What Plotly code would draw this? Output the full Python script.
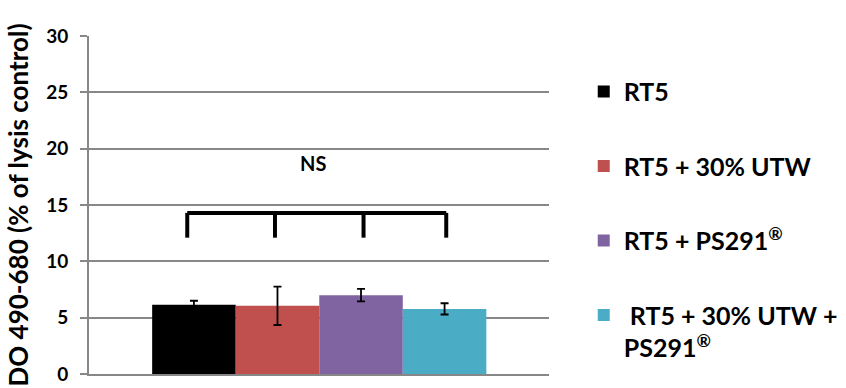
import plotly.graph_objects as go

series_names = ["RT5", "RT5 + 30% UTW", "RT5 + PS291<sup>®</sup>", " RT5 + 30% UTW +<br>PS291<sup>®</sup>"]
values = [6.15, 6.05, 7.0, 5.78]
errors = [0.35, 1.7, 0.55, 0.5]
colors = ["#000000", "#C0504D", "#8064A2", "#4BACC6"]
y_ticks = [0, 5, 10, 15, 20, 25, 30]
bracket_x = [-0.08, 0.97, 2.03, 3.02]
bracket_top = 14.3
bracket_bottom = 12.1
ns_label = "NS"
ns_pos = (1.42, 18.7)

FONT = "Lato"
GRAY = "#878787"

fig = go.Figure()
for i, (name, v, e, c) in enumerate(zip(series_names, values, errors, colors)):
    fig.add_trace(go.Bar(
        x=[i], y=[v], width=1, name=name, legendgroup=f"g{i}",
        marker=dict(color=c, line=dict(width=0)),
        error_y=dict(type="data", array=[e], visible=True, color="#000000",
                     thickness=1.8, width=4),
    ))

# significance bracket
fig.add_shape(type="line", x0=bracket_x[0], x1=bracket_x[-1], y0=bracket_top, y1=bracket_top,
              line=dict(color="#000000", width=4))
for bx in bracket_x:
    fig.add_shape(type="line", x0=bx, x1=bx, y0=bracket_top, y1=bracket_bottom,
                  line=dict(color="#000000", width=4))
fig.add_annotation(x=ns_pos[0], y=ns_pos[1], text=ns_label, showarrow=False,
                   font=dict(family=FONT, size=20, color="#000000", weight="bold"))

fig.update_layout(
    width=846, height=388,
    margin=dict(l=89, r=297, t=36, b=14, autoexpand=False),
    plot_bgcolor="white", paper_bgcolor="white",
    barmode="overlay",
    font=dict(family=FONT, color="#000000"),
    showlegend=True,
    legend=dict(xref="container", yref="container", x=0.690, xanchor="left", y=0.823, yanchor="top",
                font=dict(family=FONT, size=25, color="#000000", weight="bold"),
                tracegroupgap=39, valign="top", bgcolor="rgba(0,0,0,0)", maxheight=1.0),
    xaxis=dict(range=[-1.256, 4.25], showticklabels=False, showgrid=False, zeroline=False,
               showline=True, linecolor=GRAY, linewidth=2, ticks=""),
    yaxis=dict(range=[0, 30], tickvals=y_ticks, showgrid=True, gridcolor=GRAY, gridwidth=2,
               zeroline=False, showline=True, linecolor=GRAY, linewidth=2,
               ticks="outside", ticklen=7, tickwidth=2, tickcolor=GRAY, ticklabelstandoff=8,
               tickfont=dict(family=FONT, size=19, color="#000000", weight="bold"),
               title=dict(text="DO 490-680 (% of lysis control)", standoff=10,
                          font=dict(family=FONT, size=26, color="#000000", weight="bold"))),
)

fig.write_html("out.html", post_script="document.body.style.margin='0';",
               config={"displayModeBar": False})
